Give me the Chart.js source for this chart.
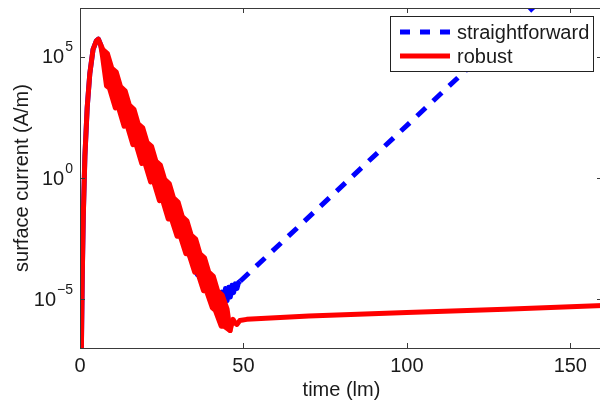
<!DOCTYPE html>
<html>
<head>
<meta charset="utf-8">
<title>surface current</title>
<script src="https://cdn.jsdelivr.net/npm/chart.js@4.4.1/dist/chart.umd.min.js"></script>
<style>
  html, body { margin: 0; padding: 0; background: #fff; overflow: hidden; }
  #wrap { width: 606px; height: 405px; }
</style>
</head>
<body>
<div id="wrap"><canvas id="chart" width="606" height="405"></canvas></div>
<script>
// time in light-metres, current stored as log10 of A/m

// robust solver: rise to the peak, then (after the gap) the settled tail
const robustTime = [
  0.4, 0.7, 1.0, 1.5, 2.2, 3.0, 4.0, 5.0, 5.6, 6.3,
  26.0,
  45.9, 46.8, 47.5, 48.0, 48.9, 51.0, 70, 100, 130, 160
];
const robustLog = [
  -7.3, -4.0, -1.6, 0.9, 2.9, 4.3, 5.3, 5.65, 5.72, 5.5,
  null,
  -6.28, -5.82, -5.98, -6.03, -5.87, -5.82, -5.68, -5.54, -5.40, -5.25
];

// robust solver, fast oscillation during the decay: upper edge forward, lower edge back
const bandTime = [
  6.3, 7.0, 8.4, 9.7, 11.1, 12.4, 13.8, 15.1, 16.5, 17.8, 19.2, 20.5, 21.9,
  23.2, 24.6, 25.9, 27.3, 28.6, 30.0, 31.3, 32.7, 34.0, 35.4, 36.7, 38.1,
  39.4, 40.8, 42.1, 43.5, 45.0, 45.9,
  44.1, 43.2, 41.4, 40.5, 38.7, 37.8, 36.0, 35.1, 33.3, 32.4, 30.6, 29.7,
  27.9, 27.0, 25.2, 24.3, 22.5, 21.6, 19.8, 18.9, 17.1, 16.2, 14.4, 13.5,
  11.7, 10.8, 9.0, 8.1, 6.9, 6.3
];
const bandLog = [
  5.5, 5.29, 5.12, 4.53, 4.36, 3.76, 3.59, 3.00, 2.83, 2.23, 2.06, 1.47, 1.30,
  0.70, 0.53, -0.06, -0.23, -0.82, -0.99, -1.59, -1.76, -2.35, -2.52, -3.12, -3.29,
  -3.88, -4.05, -4.65, -4.82, -5.4, -6.28,
  -6.1, -6.1, -5.45, -5.35, -4.65, -4.64, -3.89, -3.88, -3.12, -3.12, -2.36, -2.40,
  -1.65, -1.69, -0.88, -0.93, -0.12, -0.16, 0.65, 0.60, 1.41, 1.37, 2.18, 2.13,
  2.94, 2.89, 3.70, 3.80, 5.0, 5.5
];

// straightforward solver: same start, then exponential growth after t ~ 45
const straightTime = [
  0.4, 0.7, 1.0, 1.5, 2.2, 3.0, 4.0, 5.0, 5.6, 6.3,
  7.0, 15.1, 25.9, 35.9, 36.7, 41.8,
  43.4, 44.0, 44.5, 45.0, 45.5, 46.0, 46.5, 47.0, 47.5, 48.0, 48.5, 49.0,
  138.2, 160
];
const straightLog = [
  -7.3, -4.0, -1.6, 0.9, 2.9, 4.3, 5.3, 5.65, 5.72, 5.5,
  5.1, 2.4, -0.6, -3.98, -3.7, -5.2,
  -4.7, -5.1, -4.55, -5.05, -4.5, -4.9, -4.42, -4.72, -4.36, -4.55, -4.3, -4.25,
  6.97, 9.7
];

const seriesNames = ["straightforward", "robust"];
const xTicks = [0, 50, 100, 150];
const yTickExps = [-5, 0, 5];
const xRange = [0, 160];
const yRange = [1e-7, 1e7];

const toPoints = (ts, logs) =>
  ts.map((t, i) => ({ x: t, y: logs[i] === null ? null : Math.pow(10, logs[i]) }));

const mainFont = "20px 'Liberation Sans', Arial, Helvetica, sans-serif";
const supFont = "14px 'Liberation Sans', Arial, Helvetica, sans-serif";
const axisColor = "#3a3a3a";
const textColor = "#1a1a1a";
const red = "#ff0000";
const blue = "#0000ff";
const blueDash = [12, 10];

// box, inward ticks, tick labels, axis titles and the legend
const axesFrame = {
  id: "axesFrame",
  afterDatasetsDraw(chart) {
    const { ctx, chartArea: a, scales: { x, y } } = chart;
    ctx.save();
    ctx.strokeStyle = axisColor;
    ctx.lineWidth = 1;
    ctx.strokeRect(a.left + 0.5, a.top + 0.5, a.right - a.left - 1, a.bottom - a.top);

    ctx.beginPath();
    xTicks.forEach(v => {
      const px = Math.round(x.getPixelForValue(v)) + 0.5;
      ctx.moveTo(px, a.bottom); ctx.lineTo(px, a.bottom - 5);
      ctx.moveTo(px, a.top); ctx.lineTo(px, a.top + 5);
    });
    yTickExps.forEach(e => {
      const py = Math.round(y.getPixelForValue(Math.pow(10, e))) + 0.5;
      ctx.moveTo(a.left, py); ctx.lineTo(a.left + 5, py);
      ctx.moveTo(a.right, py); ctx.lineTo(a.right - 6, py);
    });
    ctx.stroke();

    ctx.fillStyle = textColor;
    ctx.textBaseline = "middle";
    ctx.font = mainFont;
    ctx.textAlign = "center";
    xTicks.forEach(v => ctx.fillText(String(v), x.getPixelForValue(v), a.bottom + 18));

    const labelRight = a.left - 7;
    yTickExps.forEach(e => {
      const py = y.getPixelForValue(Math.pow(10, e));
      const sup = e < 0 ? "\u2212" + (-e) : String(e);
      ctx.textAlign = "right";
      ctx.font = supFont;
      const sw = ctx.measureText(sup).width;
      ctx.fillText(sup, labelRight, py - 9);
      ctx.font = mainFont;
      ctx.fillText("10", labelRight - sw - 1, py + 1);
    });

    ctx.font = mainFont;
    ctx.textAlign = "center";
    ctx.fillText("time (lm)", (a.left + a.right) / 2, a.bottom + 42);
    ctx.save();
    ctx.translate(22, (a.top + a.bottom) / 2);
    ctx.rotate(-Math.PI / 2);
    ctx.fillText("surface current (A/m)", 0, 0);
    ctx.restore();

    const lx = 390, ly = 16, lw = 203, lh = 55;
    ctx.fillStyle = "#fff";
    ctx.fillRect(lx, ly, lw, lh);
    ctx.strokeStyle = "#222";
    ctx.lineWidth = 1;
    ctx.strokeRect(lx + 0.5, ly + 0.5, lw, lh);
    chart.data.datasets.slice(0, 2).forEach((ds, i) => {
      const rowY = ly + 16 + i * 24;
      ctx.strokeStyle = ds.borderColor;
      ctx.lineWidth = 5;
      ctx.lineCap = "butt";
      ctx.setLineDash(i === 0 ? [10, 10] : []);
      ctx.beginPath();
      ctx.moveTo(lx + 10, rowY);
      ctx.lineTo(lx + 60, rowY);
      ctx.stroke();
      ctx.setLineDash([]);
      ctx.fillStyle = textColor;
      ctx.textAlign = "left";
      ctx.fillText(ds.label, lx + 67, rowY + 1);
    });
    ctx.restore();
  }
};

new Chart(document.getElementById("chart"), {
  type: "line",
  data: {
    datasets: [
      {
        label: seriesNames[0],
        data: toPoints(straightTime, straightLog),
        borderColor: blue,
        borderWidth: 5,
        borderCapStyle: "butt",
        borderJoinStyle: "round",
        segment: {
          borderDash: c => (c.p0.parsed.x < 49 ? [] : blueDash)
        },
        order: 2
      },
      {
        label: seriesNames[1],
        data: toPoints(robustTime, robustLog),
        borderColor: red,
        borderWidth: 5,
        borderCapStyle: "round",
        borderJoinStyle: "round",
        order: 0
      },
      {
        label: seriesNames[1] + " band",
        data: toPoints(bandTime, bandLog),
        borderColor: red,
        backgroundColor: red,
        borderWidth: 5,
        borderJoinStyle: "round",
        fill: "shape",
        order: 1
      }
    ]
  },
  options: {
    responsive: false,
    devicePixelRatio: 1,
    animation: false,
    clip: 0,
    spanGaps: false,
    elements: { point: { radius: 0 }, line: { tension: 0 } },
    layout: { padding: { left: 80, top: 8, right: 3, bottom: 57 } },
    plugins: { legend: { display: false }, tooltip: { enabled: false } },
    scales: {
      x: { type: "linear", display: false, min: xRange[0], max: xRange[1] },
      y: { type: "logarithmic", display: false, min: yRange[0], max: yRange[1] }
    }
  },
  plugins: [axesFrame]
});
</script>
</body>
</html>
